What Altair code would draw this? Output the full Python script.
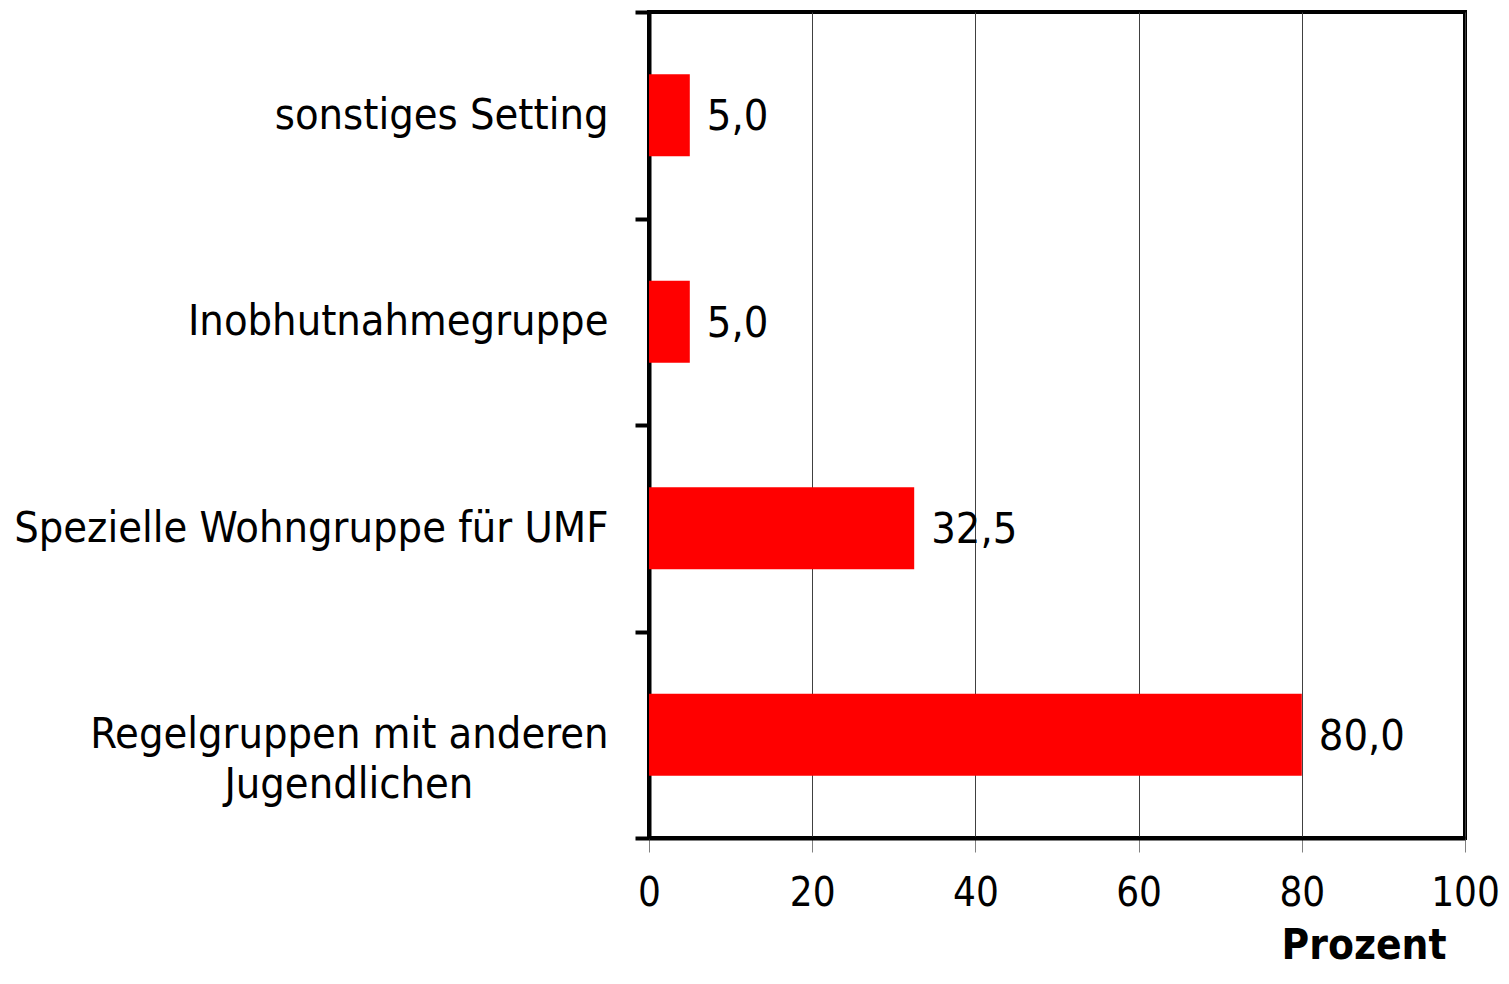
import altair as alt
import pandas as pd

NBSP = "\u00a0"
ZWSP = "\u200b"
categories = [
    "sonstiges Setting",
    "Inobhutnahmegruppe",
    "Spezielle Wohngruppe für UMF",
    "Regelgruppen mit anderen\nJugendlichen" + NBSP * 11 + ZWSP,
]
values = [5.0, 5.0, 32.5, 80.0]
x_ticks = [0, 20, 40, 60, 80, 100]

df = pd.DataFrame({"cat": categories, "val": values})
FONT = "DejaVu Sans Condensed"
FS = 43

y_enc = alt.Y(
    "cat:N",
    sort=categories,
    title=None,
    scale=alt.Scale(paddingInner=0, paddingOuter=0),
    axis=alt.Axis(
        labelExpr="split(datum.label, '\\n')",
        labelFont=FONT,
        labelFontSize=FS,
        labelColor="black",
        labelLineHeight=50,
        labelPadding=27,
        labelLimit=0,
        labelAlign="right",
        labelBaseline="middle",
        domainColor="black",
        domainWidth=4,
        tickColor="black",
        tickWidth=4,
        tickSize=14,
        tickBand="extent",
        grid=False,
    ),
)

x_enc = alt.X(
    "val:Q",
    scale=alt.Scale(domain=[0, 100], nice=False),
    axis=alt.Axis(
        values=x_ticks,
        format="d",
        grid=True,
        gridColor="#404040",
        gridWidth=1,
        tickColor="#808080",
        tickWidth=1,
        tickSize=14,
        domainColor="black",
        domainWidth=4,
        labelFont=FONT,
        labelFontSize=40,
        labelColor="black",
        labelPadding=21,
        labelFlush=False,
        title="Prozent",
        titleFont=FONT,
        titleFontSize=42,
        titleFontWeight="bold",
        titleColor="black",
        titleAnchor="end",
        titleAlign="right",
        titleBaseline="alphabetic",
        titleX=797,
        titleY=120,
    ),
)

bars = alt.Chart(df).mark_bar(color="#FF0000", size=82).encode(x=x_enc, y=y_enc)

text = (
    alt.Chart(df)
    .transform_calculate(lbl="replace(format(datum.val, '.1f'), '.', ',')")
    .mark_text(align="left", baseline="middle", dx=17, dy=2, font=FONT, fontSize=FS, color="black")
    .encode(x="val:Q", y=alt.Y("cat:N", sort=categories), text="lbl:N")
)

chart = (
    alt.layer(bars, text)
    .properties(
        width=816,
        height=826,
        background="white",
        autosize=alt.AutoSizeParams(type="none"),
        padding={"left": 641, "top": 4, "right": 36, "bottom": 130},
    )
    .configure_view(stroke="black", strokeWidth=4)
)

chart.save("out.html", embed_options={"renderer": "svg", "actions": False})
